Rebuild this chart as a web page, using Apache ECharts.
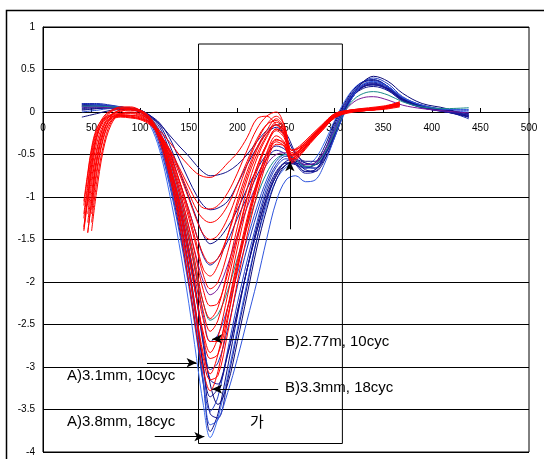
<!DOCTYPE html>
<html><head><meta charset="utf-8">
<script src="https://cdn.jsdelivr.net/npm/echarts@6.0.0/dist/echarts.min.js"></script>
<style>html,body{margin:0;padding:0;background:#fff}#c{width:544px;height:459px}</style>
</head><body><div id="c"></div>
<script>
// ---------- data ----------
const xTickLabels = ['0','50','100','150','200','250','300','350','400','450','500'];
const yTickLabels = ['-4','-3.5','-3','-2.5','-2','-1.5','-1','-0.5','0','0.5','1'];

const xBlue = [40,55,70,85,100,110,120,130,140,150,158,165,172,180,190,200,210,220,230,240,250,260,270,280,290,300,310,320,330,340,355,370,390,415,438];
const blue01 = [0.1,0.09,0.07,0.05,0.0,-0.15,-0.45,-0.95,-1.55,-2.25,-2.9,-3.45,-3.83,-3.6,-3.1,-2.55,-2.0,-1.5,-1.1,-0.8,-0.65,-0.6,-0.62,-0.55,-0.35,-0.1,0.12,0.28,0.36,0.38,0.3,0.15,0.06,0.02,0.0];
const blue02 = [0.07,0.07,0.06,0.05,0.01,-0.1,-0.35,-0.8,-1.35,-2.0,-2.6,-3.2,-3.76,-3.55,-3.0,-2.4,-1.85,-1.35,-0.95,-0.7,-0.6,-0.62,-0.66,-0.6,-0.4,-0.12,0.1,0.27,0.36,0.38,0.3,0.16,0.07,0.02,-0.02];
const blue03 = [0.02,0.04,0.05,0.04,0.0,-0.08,-0.3,-0.7,-1.2,-1.8,-2.4,-3.0,-3.55,-3.6,-3.15,-2.6,-2.05,-1.5,-1.05,-0.75,-0.62,-0.6,-0.65,-0.62,-0.45,-0.15,0.08,0.25,0.35,0.37,0.3,0.17,0.08,0.02,-0.04];
const blue04 = [0.09,0.09,0.07,0.05,0.01,-0.12,-0.4,-0.85,-1.4,-2.05,-2.65,-3.2,-3.52,-3.35,-2.8,-2.25,-1.75,-1.3,-0.9,-0.65,-0.55,-0.6,-0.7,-0.68,-0.5,-0.2,0.05,0.25,0.36,0.4,0.33,0.18,0.08,0.03,0.02];
const blue05 = [-0.06,-0.02,0.02,0.03,0.0,-0.07,-0.25,-0.6,-1.05,-1.6,-2.15,-2.7,-3.2,-3.44,-3.2,-2.7,-2.15,-1.6,-1.15,-0.8,-0.62,-0.58,-0.64,-0.66,-0.55,-0.3,0.0,0.22,0.36,0.42,0.36,0.22,0.1,0.04,-0.06];
const blue06 = [0.05,0.06,0.06,0.04,0.01,-0.08,-0.28,-0.65,-1.1,-1.65,-2.2,-2.75,-3.15,-3.2,-2.85,-2.35,-1.85,-1.4,-1.0,-0.72,-0.58,-0.56,-0.6,-0.62,-0.5,-0.25,0.02,0.22,0.32,0.34,0.28,0.16,0.07,0.02,-0.06];
const blue07 = [0.1,0.1,0.08,0.05,0.02,-0.08,-0.3,-0.7,-1.15,-1.7,-2.2,-2.7,-3.03,-2.95,-2.55,-2.05,-1.6,-1.2,-0.85,-0.62,-0.52,-0.55,-0.62,-0.6,-0.45,-0.18,0.06,0.24,0.33,0.35,0.29,0.15,0.06,0.01,-0.08];
const blue08 = [0.0,0.02,0.04,0.04,0.02,-0.06,-0.25,-0.6,-1.0,-1.5,-1.95,-2.4,-2.7,-2.62,-2.3,-1.9,-1.5,-1.12,-0.8,-0.58,-0.5,-0.56,-0.66,-0.66,-0.5,-0.22,0.04,0.22,0.3,0.32,0.26,0.14,0.06,0.0,-0.04];
const blue09 = [0.08,0.07,0.06,0.04,0.0,-0.1,-0.33,-0.75,-1.25,-1.85,-2.45,-3.0,-3.35,-3.25,-2.85,-2.35,-1.85,-1.4,-1.02,-0.75,-0.6,-0.6,-0.68,-0.7,-0.56,-0.28,0.0,0.2,0.3,0.33,0.27,0.15,0.07,0.02,-0.02];
const blue10 = [0.04,0.05,0.05,0.04,0.02,-0.04,-0.15,-0.38,-0.68,-1.0,-1.25,-1.45,-1.55,-1.5,-1.35,-1.15,-0.9,-0.68,-0.5,-0.4,-0.45,-0.6,-0.7,-0.68,-0.5,-0.25,0.02,0.2,0.28,0.3,0.25,0.13,0.06,0.0,-0.06];
const blue11 = [0.07,0.07,0.06,0.05,0.02,-0.04,-0.13,-0.3,-0.55,-0.8,-0.98,-1.1,-1.15,-1.13,-1.05,-0.85,-0.62,-0.42,-0.25,-0.18,-0.3,-0.5,-0.6,-0.62,-0.5,-0.28,0.0,0.2,0.3,0.32,0.27,0.14,0.05,0.0,-0.05];
const blue12 = [0.03,0.04,0.05,0.04,0.02,-0.05,-0.14,-0.27,-0.4,-0.52,-0.63,-0.71,-0.75,-0.74,-0.7,-0.62,-0.5,-0.35,-0.22,-0.15,-0.25,-0.48,-0.58,-0.58,-0.48,-0.26,0.0,0.2,0.3,0.32,0.27,0.14,0.06,0.01,-0.04];
const blue13 = [0.09,0.08,0.07,0.05,0.02,-0.05,-0.18,-0.45,-0.8,-1.15,-1.45,-1.7,-1.8,-1.72,-1.52,-1.25,-1.0,-0.75,-0.55,-0.45,-0.5,-0.62,-0.72,-0.7,-0.52,-0.25,0.03,0.22,0.31,0.33,0.26,0.13,0.05,0.0,-0.03];
const blue14 = [0.06,0.07,0.07,0.05,0.01,-0.1,-0.35,-0.8,-1.3,-1.9,-2.5,-3.15,-3.68,-3.62,-3.3,-2.9,-2.45,-2.0,-1.5,-1.05,-0.8,-0.75,-0.82,-0.8,-0.6,-0.3,-0.02,0.2,0.33,0.36,0.3,0.17,0.08,0.03,0.03];
const purple1 = [0.06,0.06,0.05,0.04,0.01,-0.06,-0.22,-0.52,-0.9,-1.35,-1.72,-2.0,-2.15,-2.08,-1.8,-1.45,-1.12,-0.85,-0.62,-0.5,-0.48,-0.55,-0.62,-0.6,-0.45,-0.22,0.0,0.12,0.17,0.18,0.14,0.08,0.04,0.01,-0.01];
const teal1 = [0.07,0.07,0.06,0.05,0.02,-0.06,-0.24,-0.56,-0.95,-1.45,-1.9,-2.25,-2.45,-2.38,-2.1,-1.72,-1.35,-1.0,-0.72,-0.55,-0.5,-0.56,-0.64,-0.62,-0.48,-0.24,0.0,0.15,0.22,0.24,0.2,0.12,0.06,0.04,0.05];

const xRed = [42,46,50,55,62,70,80,90,100,110,120,130,140,150,158,165,172,180,190,200,210,220,230,240,248,256,264,275,287,300,315,335,350,367];
const red01 = [-1.1,-0.75,-0.45,-0.22,-0.06,0.02,0.05,0.04,0.0,-0.1,-0.35,-0.75,-1.3,-2.0,-2.6,-3.05,-3.28,-3.05,-2.45,-1.85,-1.3,-0.85,-0.5,-0.32,-0.38,-0.58,-0.5,-0.35,-0.2,-0.05,0.02,0.04,0.06,0.1];
const red02 = [-1.35,-1.0,-0.62,-0.3,-0.1,0.0,0.04,0.04,0.01,-0.08,-0.3,-0.68,-1.2,-1.85,-2.45,-2.9,-3.15,-3.1,-2.6,-2.0,-1.45,-0.98,-0.6,-0.38,-0.4,-0.6,-0.52,-0.37,-0.22,-0.07,0.0,0.03,0.05,0.09];
const red03 = [null,-1.42,-1.05,-0.6,-0.25,-0.05,0.03,0.05,0.02,-0.08,-0.3,-0.7,-1.22,-1.85,-2.4,-2.85,-3.08,-2.85,-2.3,-1.75,-1.25,-0.82,-0.48,-0.28,-0.35,-0.55,-0.48,-0.34,-0.19,-0.05,0.01,0.03,0.05,0.12];
const red04 = [null,null,-1.4,-0.95,-0.45,-0.15,0.0,0.03,0.02,-0.06,-0.26,-0.62,-1.1,-1.7,-2.2,-2.65,-2.9,-2.85,-2.4,-1.85,-1.35,-0.9,-0.55,-0.35,-0.4,-0.58,-0.5,-0.35,-0.21,-0.06,0.0,0.02,0.04,0.08];
const red05 = [-1.25,-0.9,-0.55,-0.28,-0.08,0.01,0.06,0.06,0.02,-0.08,-0.3,-0.65,-1.12,-1.7,-2.2,-2.6,-2.83,-2.65,-2.15,-1.6,-1.1,-0.7,-0.4,-0.22,-0.3,-0.55,-0.46,-0.32,-0.17,-0.03,0.02,0.05,0.07,0.11];
const red06 = [null,-1.2,-0.85,-0.48,-0.18,-0.03,0.02,0.03,0.0,-0.08,-0.28,-0.62,-1.05,-1.6,-2.05,-2.45,-2.7,-2.7,-2.3,-1.8,-1.3,-0.88,-0.55,-0.33,-0.36,-0.56,-0.5,-0.36,-0.22,-0.07,-0.01,0.02,0.04,0.07];
const red07 = [null,null,-1.3,-0.85,-0.4,-0.12,-0.02,0.0,-0.02,-0.1,-0.3,-0.62,-1.02,-1.5,-1.95,-2.35,-2.58,-2.45,-2.0,-1.5,-1.02,-0.65,-0.38,-0.2,-0.28,-0.52,-0.45,-0.32,-0.18,-0.04,0.01,0.03,0.05,0.1];
const red08 = [-1.4,-1.05,-0.7,-0.38,-0.15,-0.04,0.01,0.02,0.0,-0.08,-0.26,-0.56,-0.95,-1.42,-1.85,-2.25,-2.43,-2.3,-1.85,-1.35,-0.9,-0.55,-0.3,-0.15,-0.22,-0.5,-0.44,-0.3,-0.16,-0.02,0.02,0.04,0.06,0.12];
const red09 = [null,-1.3,-0.95,-0.55,-0.22,-0.07,-0.02,-0.01,-0.03,-0.1,-0.27,-0.55,-0.9,-1.35,-1.75,-2.1,-2.28,-2.25,-1.9,-1.45,-1.0,-0.65,-0.38,-0.2,-0.26,-0.52,-0.47,-0.33,-0.19,-0.05,0.0,0.02,0.04,0.08];
const red10 = [null,null,-1.2,-0.75,-0.32,-0.1,-0.04,-0.04,-0.05,-0.12,-0.28,-0.52,-0.85,-1.25,-1.6,-1.92,-2.08,-2.0,-1.65,-1.2,-0.8,-0.5,-0.28,-0.12,-0.2,-0.48,-0.42,-0.3,-0.16,-0.03,0.01,0.03,0.05,0.09];
const red11 = [-1.05,-0.72,-0.42,-0.2,-0.08,-0.03,-0.02,-0.02,-0.04,-0.1,-0.25,-0.48,-0.8,-1.2,-1.55,-1.85,-1.93,-1.8,-1.45,-1.05,-0.7,-0.42,-0.22,-0.08,-0.18,-0.45,-0.4,-0.28,-0.15,-0.02,0.02,0.04,0.06,0.1];
const red12 = [null,-1.1,-0.78,-0.45,-0.18,-0.06,-0.04,-0.05,-0.07,-0.13,-0.28,-0.5,-0.8,-1.15,-1.45,-1.68,-1.78,-1.72,-1.45,-1.1,-0.75,-0.45,-0.25,-0.15,-0.25,-0.5,-0.45,-0.32,-0.18,-0.05,0.0,0.02,0.03,0.06];
const red13 = [-1.38,-1.0,-0.65,-0.32,-0.12,-0.05,-0.05,-0.06,-0.08,-0.14,-0.27,-0.46,-0.72,-1.02,-1.27,-1.44,-1.5,-1.45,-1.25,-0.95,-0.62,-0.35,-0.15,-0.05,-0.15,-0.45,-0.42,-0.3,-0.17,-0.04,0.01,0.03,0.05,0.09];
const red14 = [null,null,-1.15,-0.7,-0.3,-0.1,-0.06,-0.07,-0.09,-0.15,-0.27,-0.43,-0.65,-0.88,-1.05,-1.13,-1.14,-1.1,-0.95,-0.72,-0.45,-0.2,-0.05,0.0,-0.15,-0.45,-0.42,-0.3,-0.17,-0.05,0.0,0.02,0.04,0.07];
const red15 = [null,-1.42,-1.05,-0.6,-0.25,-0.08,-0.05,-0.06,-0.08,-0.12,-0.22,-0.35,-0.5,-0.63,-0.72,-0.76,-0.77,-0.72,-0.6,-0.48,-0.3,-0.08,-0.05,-0.15,-0.25,-0.55,-0.48,-0.34,-0.2,-0.06,0.0,0.02,0.04,0.08];
const red16 = [-1.2,-0.85,-0.5,-0.25,-0.1,-0.04,-0.03,-0.04,-0.06,-0.12,-0.25,-0.44,-0.68,-0.95,-1.15,-1.26,-1.3,-1.26,-1.1,-0.85,-0.58,-0.32,-0.15,-0.1,-0.22,-0.5,-0.45,-0.32,-0.18,-0.05,0.0,0.03,0.05,0.1];

// annotation texts
const noteTexts = ['B)2.77m, 10cyc','B)3.3mm, 18cyc','A)3.1mm, 10cyc','A)3.8mm, 18cyc','가'];
// arrows in data units: [xFrom, yFrom, xTo, yTo]
const arrowB277 = [242, -2.67, 174, -2.67];
const arrowB33  = [242, -3.26, 174, -3.26];
const arrowA31  = [107, -2.95, 158, -2.95];
const arrowA38  = [115, -3.82, 166, -3.82];
const arrowUp   = [254, -1.38, 254, -0.58];
const boxCorners = [160, 0.8, 308, -3.9];

// ---------- styles ----------
const blueSet = [blue01,blue02,blue03,blue04,blue05,blue06,blue07,blue08,blue09,blue10,blue11,blue12,blue13,blue14,purple1,teal1];
const blueColors = ['#3d6ef2','#0c0c82','#14148f','#2440c8','#0a0a78','#16169a','#1b2fb0','#2a4fd6','#0e0e88','#12128c','#101090','#14148a','#1c1ca0','#2f55dd','#7a1a9a','#1a8a8a'];
const redSet = [red01,red02,red03,red04,red05,red06,red07,red08,red09,red10,red11,red12,red13,red14,red15,red16];

function pairs(xs, ys){ const out=[]; for(let i=0;i<xs.length;i++){ if(ys[i]!==null) out.push([xs[i], ys[i]]); } return out; }

const series = [];
blueSet.forEach((ys,i)=>series.push({type:'line', data:pairs(xBlue,ys), showSymbol:false, smooth:0.35,
  lineStyle:{width:1, color:blueColors[i]}, itemStyle:{color:blueColors[i]}, silent:true, z:2}));
redSet.forEach((ys,i)=>series.push({type:'line', data:pairs(xRed,ys), showSymbol:false, smooth:0.35,
  lineStyle:{width:1, color:'#ff0000'}, itemStyle:{color:'#ff0000'}, silent:true, z:3}));

function arrowItem(a){ return [{coord:[a[0],a[1]], symbol:'none'},{coord:[a[2],a[3]], symbol:'arrow'}]; }
series.push({type:'line', data:pairs(xRed, red16).slice(0,1), showSymbol:false, lineStyle:{width:0, opacity:0}, z:5, silent:true,
  markLine:{silent:true, symbolSize:[7,10], animation:false, label:{show:false},
    lineStyle:{color:'#000', width:1, type:'solid'},
    data:[arrowItem(arrowB277), arrowItem(arrowB33), arrowItem(arrowA31), arrowItem(arrowA38), arrowItem(arrowUp)]},
  markArea:{silent:true, itemStyle:{color:'rgba(0,0,0,0)', borderColor:'#000', borderWidth:1},
    data:[[{coord:[boxCorners[0],boxCorners[1]]},{coord:[boxCorners[2],boxCorners[3]]}]]}
});

const chart = echarts.init(document.getElementById('c'), null, {renderer:'canvas'});
const txt = (s,x,y,fam)=>({type:'text', left:x, top:y, z:100, style:{text:s, fill:'#000', font:'15px '+(fam||'"Liberation Sans", Arial, sans-serif')}});
chart.setOption({
  animation:false,
  backgroundColor:'#fff',
  grid:{left:43, right:15, top:27, bottom:7, show:true, borderColor:'#000', borderWidth:1, outerBoundsMode:'none', containLabel:false},
  xAxis:{type:'value', min:0, max:500, interval:50, position:'bottom', offset:-340, z:0,
    axisLine:{show:true, onZero:false, lineStyle:{color:'#000', width:1}},
    axisTick:{show:true, inside:true, length:4, lineStyle:{color:'#000'}},
    axisLabel:{show:true, color:'#000', fontSize:10, margin:11, hideOverlap:false, fontFamily:'"Liberation Sans", Arial, sans-serif',
      formatter:v=>xTickLabels[Math.round(v/50)]},
    splitLine:{show:false}},
  yAxis:{type:'value', min:-4, max:1, interval:0.5,
    axisLine:{show:true, onZero:false, lineStyle:{color:'#000', width:1}},
    axisTick:{show:false},
    axisLabel:{color:'#000', fontSize:10, margin:8, fontFamily:'"Liberation Sans", Arial, sans-serif',
      formatter:v=>yTickLabels[Math.round((v+4)/0.5)]},
    splitLine:{show:true, lineStyle:{color:'#000', width:1}}},
  series:series,
  graphic:[
    {type:'rect', shape:{x:6.5, y:10.5, width:600, height:500}, style:{fill:'none', stroke:'#000', lineWidth:1.5}, z:100, silent:true},
    txt(noteTexts[0], 285, 334),
    txt(noteTexts[1], 285, 380),
    txt(noteTexts[2], 67, 368),
    txt(noteTexts[3], 67, 414),
    txt(noteTexts[4], 250, 414, '"Noto Sans CJK KR", sans-serif')
  ]
});
</script></body></html>
